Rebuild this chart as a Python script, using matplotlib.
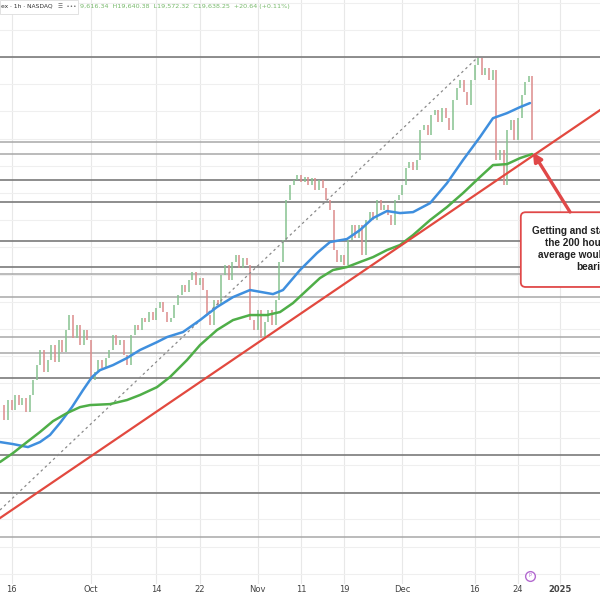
"""
Nasdaq 1h chart: 100/200 hour moving averages, trend line and key levels
"""

import matplotlib
matplotlib.use("Agg")
import matplotlib.pyplot as plt
from matplotlib.patches import FancyBboxPatch
import matplotlib.transforms as mtransforms
import numpy as np

# --- data (x = trading days since Sep 16, y = price) ---
first_day = -1.5
closes = [
    17641, 17531, 17678, 17604, 17715, 17641, 17693, 17590, 17715, 17825,
    17935, 18046, 17884, 17972, 18082, 17957, 18119, 18031, 18193, 18303,
    18134, 18229, 18082, 18193, 18119, 17825, 17884, 17972, 17913, 17987,
    18046, 18156, 18082, 18119, 18009, 17935, 18156, 18229, 18193, 18281,
    18251, 18325, 18266, 18354, 18398, 18325, 18251, 18281, 18376, 18450,
    18523, 18472, 18560, 18619, 18523, 18575, 18487, 18303, 18229, 18413,
    18376, 18597, 18671, 18560, 18693, 18744, 18648, 18722, 18671, 18266,
    18193, 18340, 18134, 18251, 18340, 18229, 18413, 18693, 18854, 19149,
    19259, 19296, 19332, 19281, 19318, 19259, 19310, 19222, 19296, 19237,
    19149, 19075, 18781, 18693, 18744, 18671, 18854, 18965, 18869, 18965,
    18744, 19001, 19060, 19001, 19149, 19075, 19112, 19038, 18965, 19149,
    19185, 19259, 19384, 19428, 19369, 19443, 19663, 19700, 19626, 19773,
    19810, 19722, 19825, 19751, 19663, 19884, 19972, 20031, 19943, 19847,
    20031, 20141, 20193, 20068, 20119, 20031, 20104, 19443, 19516, 19259,
    19663, 19737, 19590, 19751, 19921, 20016, 20060, 19590,
]

ma100_days = [-1.59, 0.21, 2.28, 3.94, 5.32, 6.7, 8.36, 9.88, 11.12, 12.23,
              14.03, 15.96, 17.76, 20.11, 21.49, 23.7, 26.05, 28.4, 30.61,
              32.96, 36.14, 37.52, 39.87, 42.22, 44.02, 46.36, 48.16, 49.96,
              51.89, 53.69, 55.49, 57.84, 60.18, 62.4, 64.74, 66.54, 68.48,
              70.27, 71.65]
ma100 = [17369, 17354, 17332, 17369, 17421, 17509, 17626, 17751, 17847, 17898,
         17935, 17987, 18046, 18104, 18141, 18178, 18266, 18362, 18435,
         18487, 18457, 18487, 18634, 18759, 18840, 18862, 18928, 19016,
         19068, 19053, 19060, 19126, 19273, 19443, 19612, 19751, 19788,
         19832, 19862]

ma200_days = [-1.59, 0.21, 2.14, 3.94, 5.74, 7.67, 9.47, 10.85, 13.61, 15.96,
              17.76, 20.11, 21.9, 24.25, 26.05, 28.4, 30.61, 32.96, 35.31,
              37.11, 38.9, 40.84, 42.63, 44.43, 46.36, 48.16, 49.96, 51.89,
              53.69, 55.49, 57.84, 60.18, 62.4, 64.74, 66.54, 68.48, 70.27,
              71.93]
ma200 = [17222, 17288, 17369, 17443, 17523, 17582, 17626, 17641, 17648, 17678,
         17715, 17773, 17847, 17972, 18082, 18193, 18266, 18303, 18303,
         18325, 18391, 18487, 18575, 18634, 18656, 18693, 18729, 18781,
         18818, 18891, 19001, 19097, 19200, 19318, 19406, 19413, 19457,
         19487]

trend_days = [-1.59, 81.33]
trend_prices = [16810, 19810]

channel_days = [-1.59, 64.47]
channel_prices = [16869, 20200]

major_levels = [20200, 19295, 19135, 18845, 18655, 17840, 17275, 16995]
minor_levels = [19575, 19490, 18605, 18435, 18140, 18025, 16670]

tick_days = [0, 11, 20, 26, 34, 40, 46, 54, 64, 70, 75.8]
tick_labels = ["16", "Oct", "14", "22", "Nov", "11", "19", "Dec", "16", "24", "2025"]

header_left = "ex · 1h · NASDAQ"
header_icons = "☰  •••"
header_ohlc = "9,616.34  H19,640.38  L19,572.32  C19,638.25  +20.64 (+0.11%)"
note = "Getting and staying below\nthe 200 hour moving\naverage would be more\nbearish"

# --- figure ---
fig = plt.figure(figsize=(6, 6), dpi=100)
ax = fig.add_axes([0, 16 / 600, 1, 584 / 600])
ax.set_xlim(-1.59, 81.33)
ax.set_ylim(16325, 20620)
for s in ax.spines.values():
    s.set_visible(False)

# grid
for d in tick_days:
    ax.axvline(d, color="#e8e8e8", lw=0.8, zorder=0)
for p in np.arange(16400, 20700, 200):
    ax.axhline(p, color="#efefef", lw=0.8, zorder=0)

# key levels
for p in major_levels:
    ax.axhline(p, color="#7a7a7a", lw=1.2, zorder=1)
for p in minor_levels:
    ax.axhline(p, color="#a8a8a8", lw=1.1, zorder=1)

# candles
closes = np.array(closes)
opens = np.concatenate([[closes[0]], closes[:-1]])
days = first_day + 0.5 * np.arange(len(closes))
colors = np.where(closes >= opens, "#86c28f", "#dc8b8b")
ax.vlines(days, opens, closes, colors=colors, lw=1.1, zorder=2)

# channel (dotted)
ax.plot(channel_days, channel_prices, color="#8a8a8a", lw=0.9, ls=(0, (2, 2.5)), zorder=2)

# moving averages + trend line
ax.plot(ma100_days, ma100, color="#3f8fde", lw=1.8, zorder=3, solid_capstyle="round")
ax.plot(ma200_days, ma200, color="#4fae48", lw=1.8, zorder=3, solid_capstyle="round")
ax.plot(trend_days, trend_prices, color="#e2493f", lw=1.6, zorder=4)

# x labels
ax.set_xticks(tick_days)
ax.set_xticklabels(tick_labels, fontsize=6, color="#444444")
ax.get_xticklabels()[-1].set_fontweight("bold")
ax.tick_params(axis="x", length=0, pad=1)
ax.set_yticks([])

# event marker
trans = mtransforms.blended_transform_factory(ax.transData, ax.transAxes)
ax.plot([71.65], [0.014], marker="o", ms=7, mfc="white", mec="#b36ad0", mew=1.0,
        transform=trans, clip_on=False, zorder=5)
ax.text(71.65, 0.014, "P", transform=trans, fontsize=3.5, color="#b36ad0",
        ha="center", va="center", zorder=6)

# annotation box + arrow (cut off at the right edge, as in the source)
box = FancyBboxPatch((0.868, 0.5086), 0.25, 0.128, transform=ax.transAxes,
                     boxstyle="round,pad=0,rounding_size=0.008",
                     fc="white", ec="#e04848", lw=1.3, zorder=6, clip_on=False)
ax.add_patch(box)
ax.text(0.99, 0.573, note, transform=ax.transAxes, ha="center", va="center",
        fontsize=7.2, fontweight="bold", family="Liberation Sans", color="#222222",
        linespacing=1.25, zorder=7)
ax.annotate("", xy=(72.05, 19500), xycoords="data",
            xytext=(0.95, 0.637), textcoords="axes fraction",
            arrowprops=dict(arrowstyle="-|>", color="#e04848", lw=2.4,
                            mutation_scale=13, shrinkA=0, shrinkB=0),
            zorder=7)

# header
hdr = FancyBboxPatch((0.0, 0.976), 0.13, 0.024, transform=ax.transAxes,
                     boxstyle="square,pad=0", fc="white", ec="#dddddd", lw=0.6, zorder=8)
ax.add_patch(hdr)
ax.text(0.001, 0.9895, header_left, transform=ax.transAxes,
        fontsize=4.3, color="#333333", va="center", ha="left", zorder=9)
ax.text(0.097, 0.9895, header_icons, transform=ax.transAxes,
        fontsize=4.0, color="#666666", va="center", ha="left", zorder=9)
ax.text(0.134, 0.9895, header_ohlc, transform=ax.transAxes,
        fontsize=4.6, color="#77b96b", va="center", ha="left", zorder=9)

fig.savefig("out.png", dpi=100)
plt.close(fig)
